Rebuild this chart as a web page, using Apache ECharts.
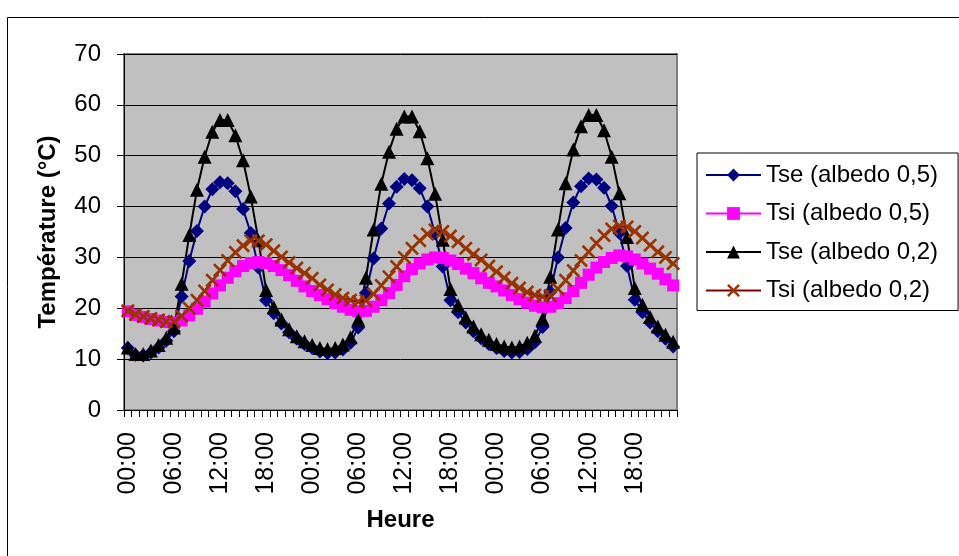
<!DOCTYPE html>
<html>
<head>
<meta charset="utf-8">
<script src="https://cdn.jsdelivr.net/npm/echarts@6/dist/echarts.min.js"></script>
<style>
html,body{margin:0;padding:0;background:#fff;}
#chart{width:959px;height:556px;}
</style>
</head>
<body>
<div id="chart"></div>
<script>
// Hour labels for one day, repeated over three days
const dayHours = ['00:00','01:00','02:00','03:00','04:00','05:00','06:00','07:00','08:00','09:00','10:00','11:00',
                  '12:00','13:00','14:00','15:00','16:00','17:00','18:00','19:00','20:00','21:00','22:00','23:00'];
const categories = [...dayHours, ...dayHours, ...dayHours];

const seriesNames = ['Tse (albedo 0,5)', 'Tsi (albedo 0,5)', 'Tse (albedo 0,2)', 'Tsi (albedo 0,2)'];

const tse05 = [
  12.2, 10.8, 10.7, 11.3, 12.3, 13.6, 15.5, 22.3, 29.3, 35.2, 40.0, 43.4, 44.8, 44.6, 43.0, 39.5, 34.8, 28.0, 21.6, 19.0, 17.0, 15.3, 14.0, 13.0,
  12.2, 11.5, 11.2, 11.3, 11.9, 13.2, 16.2, 23.0, 29.8, 35.7, 40.6, 43.9, 45.4, 45.2, 43.6, 40.0, 34.7, 28.2, 21.6, 19.2, 17.2, 15.5, 14.1, 13.0,
  12.2, 11.6, 11.3, 11.4, 12.0, 13.3, 16.3, 23.2, 30.0, 35.8, 40.8, 44.0, 45.5, 45.3, 43.7, 40.1, 34.8, 28.3, 21.7, 19.2, 17.2, 15.5, 14.0, 12.5
];
const tsi05 = [
  19.4, 18.7, 18.3, 17.9, 17.6, 17.3, 17.2, 17.6, 18.6, 19.9, 21.3, 22.9, 24.5, 26.0, 27.3, 28.3, 28.9, 29.1, 28.9, 28.3, 27.5, 26.5, 25.4, 24.3,
  23.4, 22.6, 21.8, 21.0, 20.3, 19.7, 19.4, 19.5, 20.3, 21.6, 23.0, 24.6, 26.3, 27.7, 28.8, 29.6, 30.0, 29.9, 29.4, 28.7, 27.8, 26.9, 25.9, 25.0,
  24.3, 23.5, 22.6, 21.8, 21.1, 20.5, 20.2, 20.3, 21.0, 22.0, 23.4, 25.0, 26.6, 28.0, 29.1, 29.9, 30.4, 30.2, 29.6, 28.8, 27.8, 26.8, 25.7, 24.5
];
const tse02 = [
  12.3, 11.0, 11.0, 11.7, 12.8, 14.2, 16.2, 24.8, 34.4, 43.3, 49.8, 54.7, 57.0, 57.0, 54.0, 49.1, 42.0, 33.4, 23.6, 20.2, 17.8, 15.9, 14.5, 13.5,
  12.8, 12.2, 12.0, 12.2, 12.9, 14.3, 17.8, 26.0, 35.5, 44.5, 50.8, 55.3, 57.7, 57.7, 54.8, 49.5, 42.5, 33.5, 23.8, 20.6, 18.2, 16.4, 14.9, 13.8,
  13.0, 12.5, 12.3, 12.5, 13.2, 14.6, 17.9, 26.2, 35.5, 44.6, 51.2, 55.8, 58.0, 58.0, 55.0, 49.8, 42.6, 34.0, 24.0, 20.7, 18.3, 16.4, 14.8, 13.4
];
const tsi02 = [
  19.5, 18.8, 18.4, 18.0, 17.7, 17.4, 17.4, 18.5, 20.0, 21.6, 23.4, 25.5, 27.5, 29.4, 31.0, 32.3, 33.3, 33.3, 32.5, 31.3, 30.1, 29.0, 27.9, 26.9,
  25.9, 24.6, 23.6, 22.7, 22.0, 21.6, 21.3, 21.5, 22.8, 24.5, 26.2, 28.2, 30.0, 31.8, 33.3, 34.6, 35.4, 35.1, 34.2, 33.1, 31.8, 30.6, 29.5, 28.3,
  27.2, 26.0, 24.9, 24.0, 23.2, 22.6, 22.3, 22.5, 23.8, 25.5, 27.4, 29.4, 31.1, 32.8, 34.3, 35.6, 36.2, 36.0, 35.1, 33.8, 32.4, 31.1, 30.0, 28.8
];

const yTicks = { min: 0, max: 70, interval: 10 };

const FONT = "'Liberation Sans', Arial, sans-serif";
const xSymbol = 'path://M0,1.6L1.6,0L6,4.4L10.4,0L12,1.6L7.6,6L12,10.4L10.4,12L6,7.6L1.6,12L0,10.4L4.4,6Z';

const chart = echarts.init(document.getElementById('chart'), null, { renderer: 'canvas' });

function lineSeries(name, data, color, lineColor, symbol, size) {
  return {
    name: name,
    type: 'line',
    data: data,
    symbol: symbol,
    symbolSize: size,
    showAllSymbol: true,
    symbolKeepAspect: true,
    itemStyle: { color: color, borderWidth: 0 },
    lineStyle: { color: lineColor, width: 2 },
    emphasis: { disabled: true },
    animation: false
  };
}

chart.setOption({
  animation: false,
  textStyle: { fontFamily: FONT, color: '#000' },
  graphic: [{
    type: 'rect',
    shape: { x: 7.5, y: 17.5, width: 960, height: 560 },
    style: { fill: 'none', stroke: '#000', lineWidth: 1 },
    z: -10
  }],
  grid: {
    left: 124, top: 54, width: 553, height: 356,
    show: true, backgroundColor: '#C0C0C0', borderColor: '#808080', borderWidth: 2
  },
  legend: {
    orient: 'vertical',
    left: 697, top: 153,
    padding: [10, 20, 8, 8],
    itemGap: 14.5,
    itemWidth: 55, itemHeight: 16,
    borderColor: '#000', borderWidth: 1,
    backgroundColor: '#fff',
    textStyle: { fontSize: 24, color: '#000', fontFamily: FONT },
    data: seriesNames
  },
  xAxis: {
    type: 'category',
    data: categories,
    boundaryGap: true,
    name: 'Heure',
    nameLocation: 'middle',
    nameGap: 98,
    nameTextStyle: { fontSize: 24, fontWeight: 'bold', color: '#000', fontFamily: FONT },
    axisLine: { lineStyle: { color: '#000', width: 1 } },
    axisTick: { show: true, interval: 0, length: 7, lineStyle: { color: '#000' } },
    axisLabel: { interval: 5, rotate: 90, fontSize: 25, margin: 22, color: '#000', fontFamily: FONT },
    splitLine: { show: false }
  },
  yAxis: {
    type: 'value',
    min: yTicks.min, max: yTicks.max, interval: yTicks.interval,
    name: 'Température (°C)',
    nameLocation: 'middle',
    nameRotate: 90,
    nameGap: 64,
    nameTextStyle: { fontSize: 24, fontWeight: 'bold', color: '#000', fontFamily: FONT },
    axisLine: { show: true, lineStyle: { color: '#000', width: 1 } },
    axisTick: { show: true, length: 7, lineStyle: { color: '#000' } },
    axisLabel: { fontSize: 24, margin: 23, color: '#000', fontFamily: FONT },
    splitLine: { show: true, lineStyle: { color: '#000', width: 1 } }
  },
  series: [
    lineSeries(seriesNames[0], tse05, '#000080', '#000080', 'diamond', 14),
    lineSeries(seriesNames[1], tsi05, '#FF00FF', '#FF00FF', 'rect', 12),
    lineSeries(seriesNames[2], tse02, '#000000', '#000000', 'triangle', 14),
    lineSeries(seriesNames[3], tsi02, '#993300', '#800000', xSymbol, 14)
  ]
});
</script>
</body>
</html>
